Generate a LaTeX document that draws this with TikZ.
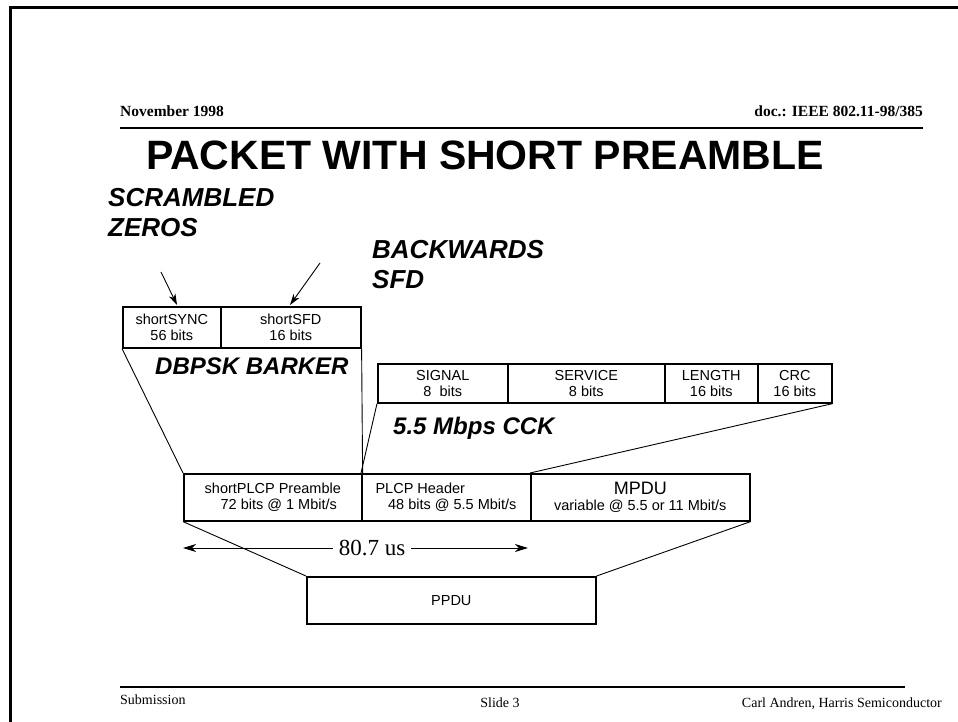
\documentclass[tikz,border=0pt]{standalone}
\usepackage{fontspec}
\setmainfont{Liberation Serif}
\setsansfont{Liberation Sans}
\usetikzlibrary{arrows.meta}
\begin{document}
\begin{tikzpicture}[x=1pt,y=-1pt,
  cell/.style={draw,line width=1.6pt,anchor=north west,inner sep=0pt,align=center,font=\sffamily\fontsize{14.5}{15.5}\selectfont},
  conn/.style={line width=0.9pt},
  ptr/.style={line width=0.9pt,-{Stealth[length=11pt,width=7pt,inset=3pt]}},
  note/.style={font=\sffamily\bfseries\itshape\fontsize{24}{27}\selectfont,align=left,inner sep=0pt},
  bignote/.style={note,font=\sffamily\bfseries\itshape\fontsize{26}{30}\selectfont},
  hdrtxt/.style={font=\bfseries\fontsize{15.5}{16}\selectfont,inner sep=0pt},
  foottxt/.style={font=\fontsize{14}{15}\selectfont,inner sep=0pt}]
\useasboundingbox (0,0) rectangle (958,722);
% frame
\draw[line width=3pt] (10,722) coordinate (fbl) -- (10,8) coordinate (ftl) -- (958,8) coordinate (ftr);
% header
\node[hdrtxt,anchor=base west] (date) at (120,117) {November 1998};
\node[hdrtxt,anchor=base east] (doc) at (923,117) {doc.: IEEE 802.11-98/385};
\draw[line width=2pt] (120,128) coordinate (hl) -- (923,128) coordinate (hr);
\node[font=\sffamily\bfseries\fontsize{41}{43}\selectfont,inner sep=0pt] (title) at (485,155) {PACKET WITH SHORT PREAMBLE};
% annotations
\node[bignote,anchor=north west] (scr) at (108,188) {SCRAMBLED\\ZEROS};
\node[bignote,anchor=north west] (bwd) at (372,240) {BACKWARDS\\SFD};
% short preamble cells
\node[cell,minimum width=98pt,minimum height=41pt] (sync) at (122,306) {shortSYNC\\56 bits};
\node[cell,minimum width=140pt,minimum height=41pt] (sfd) at (220,306) {shortSFD\\16 bits};
\coordinate (a1s) at (161,272); \coordinate (a1e) at (177,305);
\coordinate (a2s) at (320,263); \coordinate (a2e) at (290,305);
\draw[ptr] (a1s) -- (a1e);
\draw[ptr] (a2s) -- (a2e);
\node[note,anchor=north west] (dbpsk) at (155,358) {DBPSK BARKER};
% header cells
\node[cell,minimum width=130pt,minimum height=39pt] (signal) at (377,363) {SIGNAL\\8~~bits};
\node[cell,minimum width=157pt,minimum height=39pt] (service) at (507,363) {SERVICE\\8 bits};
\node[cell,minimum width=93pt,minimum height=39pt] (length) at (664,363) {LENGTH\\16 bits};
\node[cell,minimum width=74pt,minimum height=39pt] (crc) at (757,363) {CRC\\16 bits};
\node[note,anchor=north west] (cck) at (393,417) {5.5 Mbps CCK};
% PPDU parts
\node[cell,minimum width=178pt,minimum height=47pt] (pre) at (183,473) {shortPLCP Preamble\\\hspace*{12pt}72 bits @ 1 Mbit/s};
\node[cell,minimum width=169pt,minimum height=47pt] (hdr) at (361,473) {PLCP Header\hspace*{52pt}\\\hspace*{12pt}48 bits @ 5.5 Mbit/s};
\node[cell,minimum width=219pt,minimum height=47pt] (mpdu) at (530,473) {{\fontsize{18}{17}\selectfont MPDU}\\variable @ 5.5 or 11 Mbit/s};
\node[cell,minimum width=289pt,minimum height=47pt] (ppdu) at (306,576) {PPDU};
% connectors
\draw[conn] (sync.south west) -- (pre.north west);
\draw[conn] (sfd.south east) -- (pre.north east);
\draw[conn] (signal.south west) -- (hdr.north west);
\draw[conn] (crc.south east) -- (mpdu.north west);
\draw[conn] (pre.south west) -- (ppdu.north west);
\draw[conn] (mpdu.south east) -- (ppdu.north east);
% duration arrow
\coordinate (dl) at (183,548); \coordinate (dr) at (528,548);
\draw[line width=0.9pt,{Stealth[length=13pt,width=8pt,inset=4pt]}-{Stealth[length=13pt,width=8pt,inset=4pt]}] (dl) -- (dr);
\node[fill=white,font=\fontsize{23}{24}\selectfont,inner xsep=6pt,inner ysep=1pt] (dur) at (372,548) {80.7 us};
% footer
\draw[line width=2pt] (120,687) coordinate (fl) -- (905,687) coordinate (fr);
\node[foottxt,anchor=base west] (sub) at (120,704) {Submission};
\node[foottxt,anchor=base] (slide) at (500,707) {Slide 3};
\node[foottxt,anchor=base east] (auth) at (942,707) {Carl Andren, Harris Semiconductor};
\end{tikzpicture}
\end{document}
